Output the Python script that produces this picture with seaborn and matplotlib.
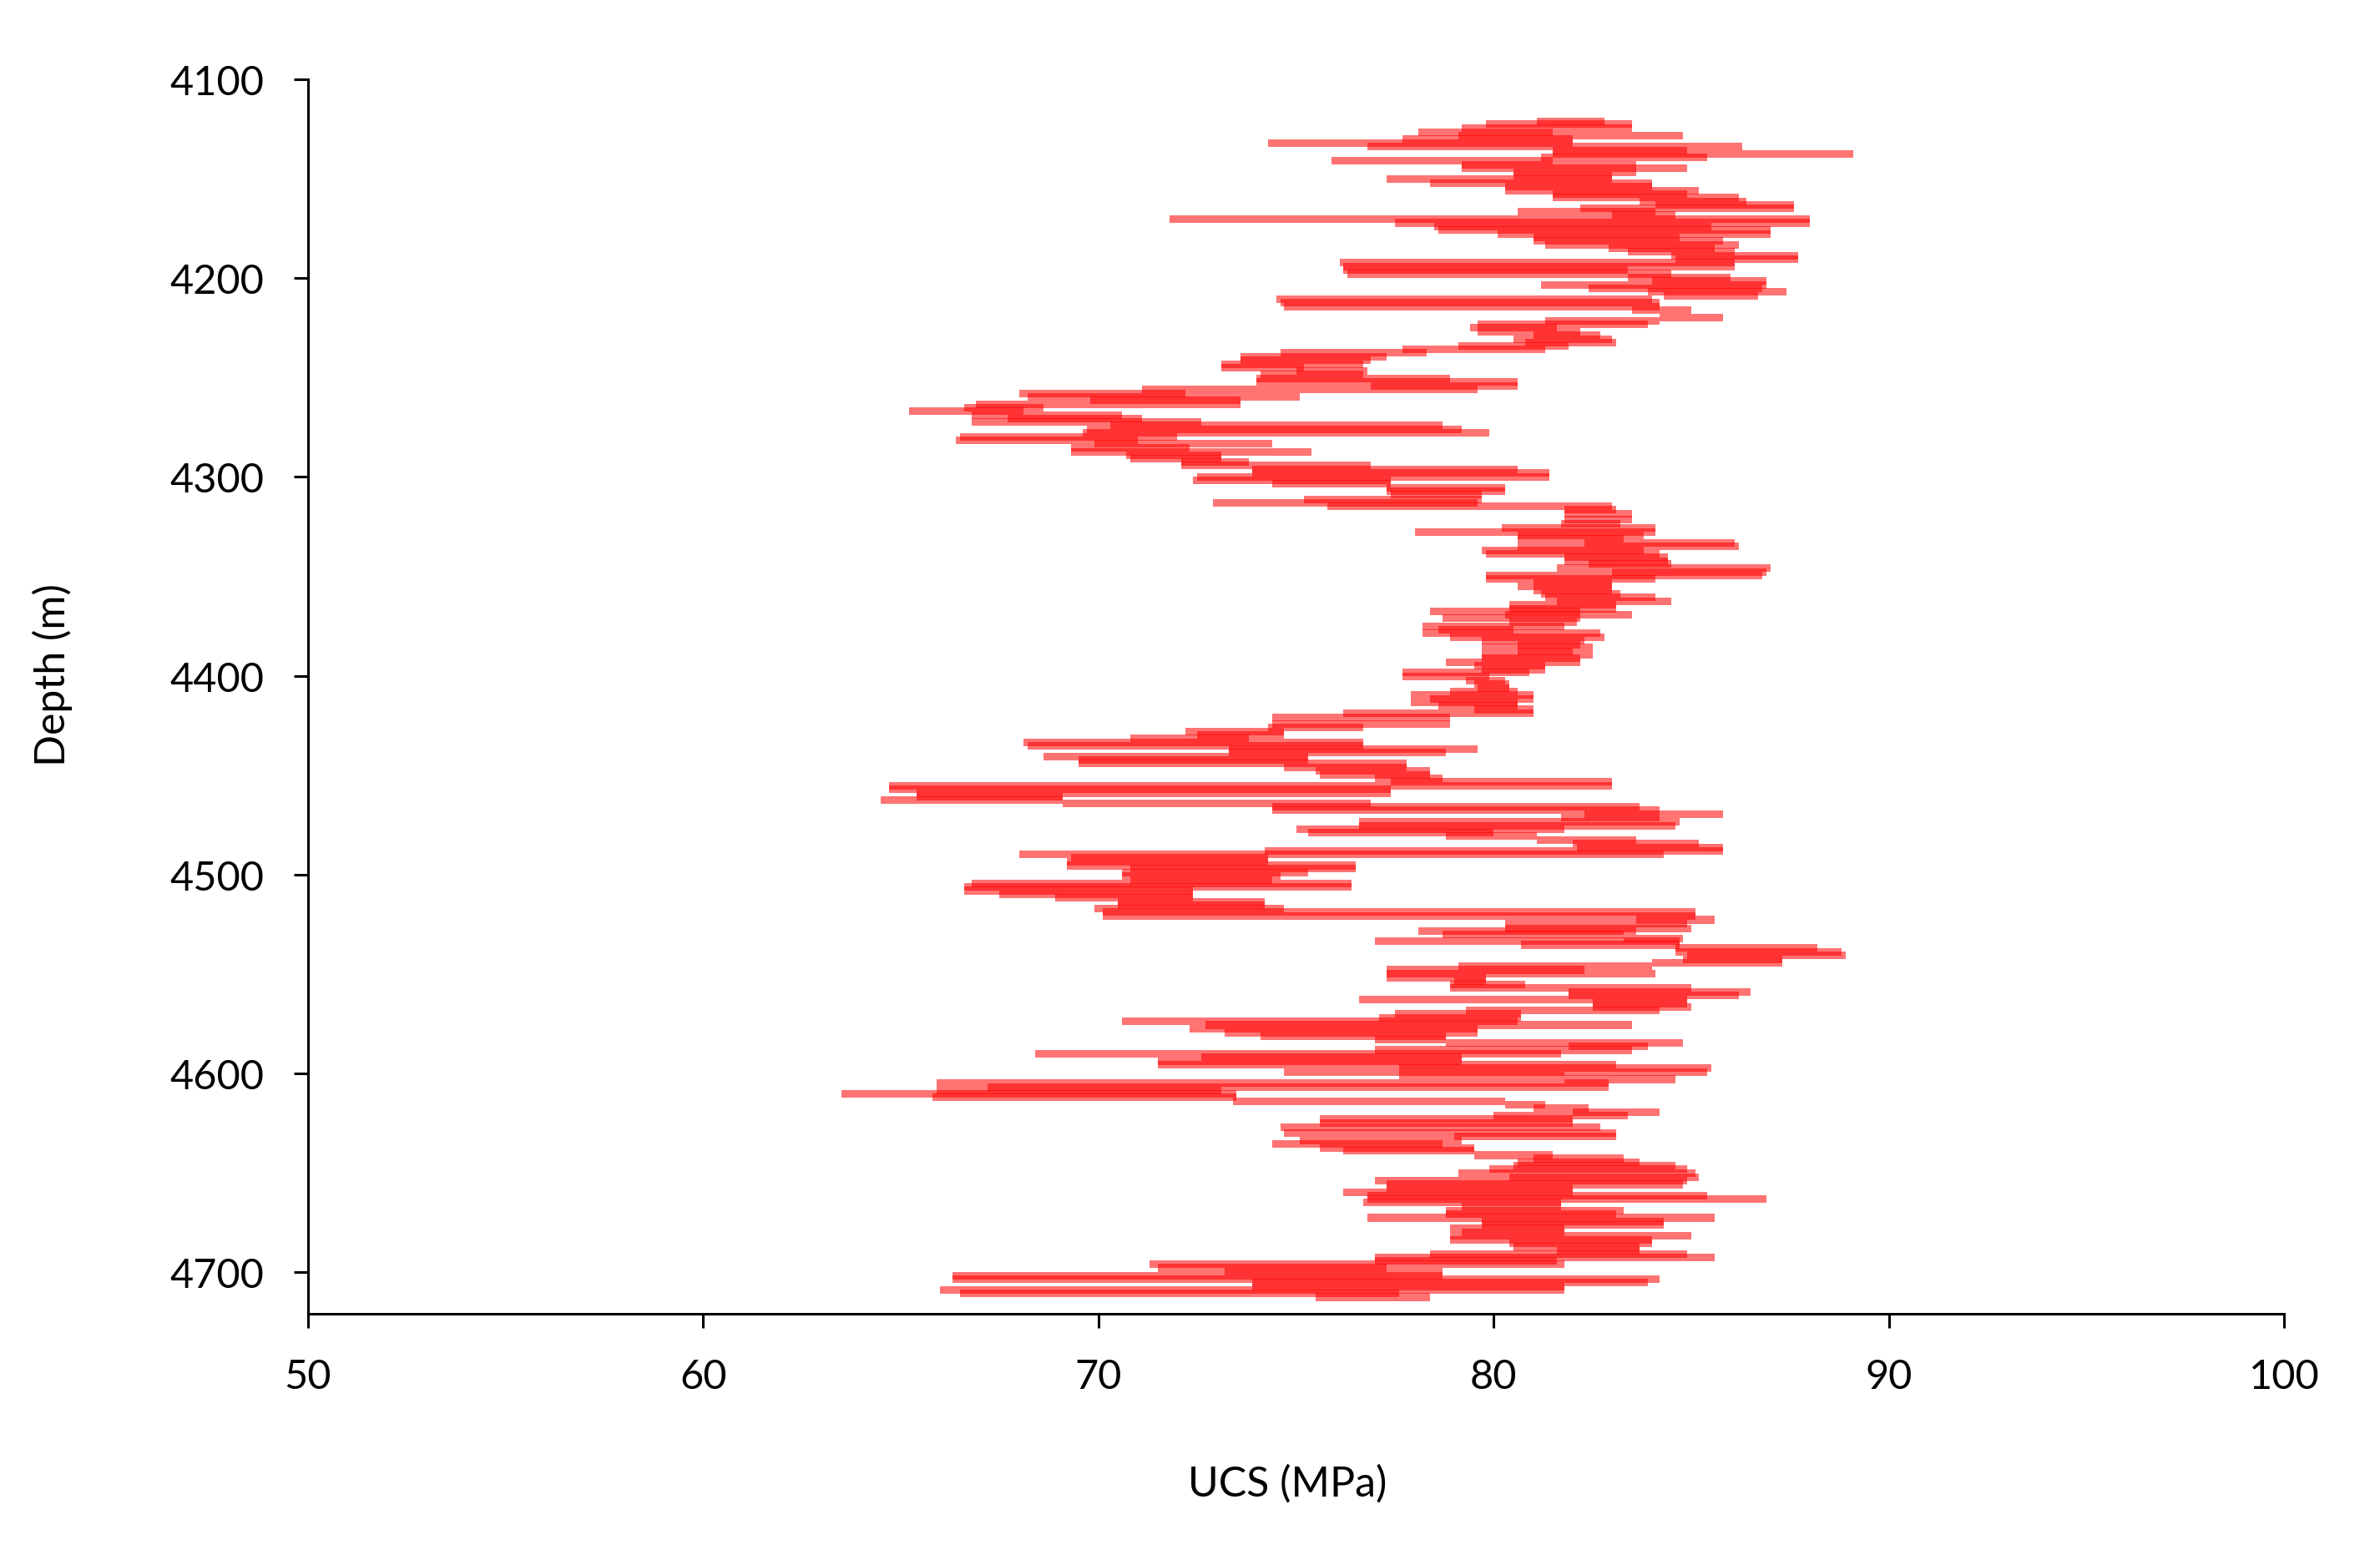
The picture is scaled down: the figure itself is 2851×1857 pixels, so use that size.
import numpy as np
import pandas as pd
import matplotlib
matplotlib.use("Agg")
import matplotlib.pyplot as plt
import seaborn as sns

depth_m = [
    4121.1, 4122.5, 4124.5, 4126.5, 4128.4, 4130.1, 4131.9, 4133.7, 4135.7, 4137.5,
    4139.3, 4141.0, 4143.1, 4144.8, 4146.6, 4148.4, 4150.2, 4152.2, 4154.0, 4155.9,
    4157.7, 4159.5, 4161.3, 4163.1, 4164.8, 4166.6, 4168.4, 4170.4, 4172.2, 4174.0,
    4175.9, 4177.7, 4179.5, 4181.3, 4183.2, 4185.0, 4186.8, 4188.6, 4190.4, 4192.2,
    4194.2, 4196.0, 4197.8, 4199.7, 4201.5, 4203.3, 4205.1, 4206.9, 4208.8, 4210.6,
    4212.4, 4214.2, 4216.0,
    4219.8, 4221.5, 4223.3, 4225.0, 4226.8, 4228.8, 4230.6, 4232.4, 4234.1, 4235.8,
    4237.6, 4239.4, 4241.1, 4243.2, 4245.0, 4246.7, 4248.5, 4250.6, 4252.3, 4254.1,
    4255.9, 4257.9, 4259.7, 4261.5, 4263.5, 4265.3, 4267.0, 4268.8, 4270.5, 4272.3,
    4274.1, 4276.1, 4277.9, 4279.7, 4281.7, 4283.3, 4285.2, 4287.3, 4289.0, 4290.8,
    4292.6, 4294.3, 4296.1, 4297.9, 4299.9, 4301.7, 4303.4, 4305.5, 4307.3, 4309.0,
    4311.3, 4313.0, 4314.7, 4316.4, 4318.4,
    4321.5, 4323.6, 4325.7, 4327.6, 4329.4, 4331.3, 4333.2, 4335.1, 4336.9, 4338.6,
    4340.4, 4342.3, 4343.9, 4345.8, 4347.9, 4349.5, 4351.4, 4353.5, 4355.1, 4357.0,
    4358.8, 4360.7, 4362.6, 4364.4, 4366.3, 4367.7, 4369.4, 4371.2, 4373.3, 4375.2,
    4377.0, 4378.7, 4380.6, 4382.4, 4384.3, 4385.9, 4387.8, 4389.6, 4391.3, 4393.2,
    4395.0, 4396.9, 4398.5, 4400.6, 4402.5, 4404.1, 4406.2, 4407.9, 4409.7, 4411.6,
    4413.4, 4415.2, 4417.0, 4418.8, 4421.0,
    4424.3, 4426.2, 4428.1, 4429.9, 4431.6, 4433.4, 4435.3, 4437.0, 4438.8, 4440.7,
    4442.3, 4444.2, 4446.0, 4447.9, 4449.8, 4451.6, 4453.5, 4455.4, 4457.2, 4459.1,
    4460.7, 4462.4, 4464.2, 4465.9, 4467.7, 4469.6, 4471.5, 4473.3, 4475.4, 4477.3,
    4478.9, 4480.8, 4482.6, 4484.5, 4486.4, 4488.0, 4489.9, 4491.7, 4493.5, 4495.5,
    4497.1, 4499.0, 4500.8, 4502.7, 4504.6, 4506.4, 4508.1, 4510.0, 4511.8, 4513.7,
    4515.3, 4517.2, 4519.0, 4521.0, 4522.8, 4524.6,
    4527.2, 4528.6, 4530.3, 4532.1, 4533.5, 4535.4, 4537.0, 4538.9, 4540.7, 4542.6,
    4544.5, 4546.3, 4548.0, 4550.0, 4551.8, 4553.6, 4555.2, 4557.1, 4559.2, 4560.8,
    4563.0, 4564.8, 4566.7, 4568.5, 4570.2, 4572.0, 4573.9, 4575.7, 4577.6, 4579.5,
    4581.3, 4583.0, 4584.6, 4586.5, 4588.3, 4590.0, 4591.9, 4593.9, 4595.8, 4597.5,
    4599.3, 4601.2, 4603.0, 4605.0, 4606.8, 4608.5, 4610.3, 4612.1, 4614.0, 4615.8,
    4617.5, 4619.4, 4621.3, 4623.1, 4625.2, 4627.0,
    4630.0, 4631.7, 4634.0, 4635.6, 4637.5, 4639.1, 4641.2, 4642.9, 4644.7, 4646.6,
    4648.2, 4650.1, 4652.2, 4654.1, 4655.9, 4657.8, 4659.7, 4661.5, 4663.4, 4665.0,
    4666.9, 4669.0, 4670.9, 4672.7, 4674.6, 4676.2, 4678.1, 4680.0, 4681.8, 4683.7,
    4685.5, 4687.4, 4689.1, 4690.9, 4692.8, 4694.4, 4696.1, 4697.9, 4699.8, 4701.7,
    4703.5, 4705.4, 4707.3, 4709.1, 4710.9, 4712.6,
]

ucs_low = [
    81.1, 79.8, 79.2, 78.1, 79.1, 77.7, 74.3, 76.8, 81.5, 81.5,
    81.2, 75.9, 79.2, 79.2, 80.5, 80.5, 77.3, 78.4, 80.3, 80.3,
    81.5, 81.5, 83.7, 84.1, 82.2, 80.6, 83.0, 71.8, 77.5, 78.5,
    78.6, 80.1, 81.0, 81.0, 81.3, 82.9, 83.4, 84.5, 84.6, 76.1,
    76.2, 76.2, 76.3, 83.4, 84.0, 81.2, 82.4, 83.9, 84.3, 74.5,
    74.6, 74.7, 83.5,
    84.2, 81.3, 79.6, 79.4, 79.6, 81.0, 80.5, 80.8, 79.1, 77.7,
    74.6, 73.6, 73.6, 73.1, 73.1, 75.0, 74.1, 74.0, 74.0, 76.9,
    71.1, 68.0, 68.2, 69.8, 66.9, 66.6, 65.2, 66.8, 67.7, 66.8,
    70.3, 69.7, 69.6, 66.5, 66.4, 69.9, 69.3, 69.3, 70.7, 70.8,
    72.1, 72.1, 73.9, 73.9, 72.5, 72.4, 74.4, 77.3, 77.3, 77.4,
    75.2, 72.9, 75.8, 81.8, 81.8,
    81.8, 81.7, 80.2, 78.0, 80.6, 80.6, 82.3, 80.6, 79.7, 79.8,
    81.8, 81.8, 82.4, 81.6, 83.0, 79.8, 79.8, 81.0, 80.6, 81.0,
    81.2, 81.3, 81.6, 80.4, 80.4, 78.4, 80.3, 78.7, 80.4, 78.2,
    78.6, 78.2, 78.9, 79.7, 80.6, 79.7, 80.6, 79.7, 79.7, 78.8,
    79.5, 79.7, 77.7, 77.7, 79.3, 79.5, 79.6, 78.9, 77.9, 78.4,
    77.9, 78.6, 79.5, 76.2, 74.4,
    74.4, 74.3, 72.2, 72.5, 70.8, 68.1, 68.2, 73.3, 73.3, 68.6,
    69.5, 69.5, 74.7, 75.5, 75.6, 77.0, 77.4, 64.7, 64.7, 65.4,
    65.4, 64.5, 69.1, 74.4, 74.4, 82.3, 81.7, 76.6, 76.6, 75.0,
    75.3, 78.8, 81.1, 82.0, 82.1, 74.2, 68.0, 69.3, 69.2, 69.2,
    70.8, 70.6, 70.6, 70.8, 66.8, 66.6, 66.6, 67.5, 68.9, 70.5,
    70.5, 69.9, 70.1, 70.1, 83.6, 80.3,
    80.3, 78.1, 78.7, 83.3, 77.0, 80.7, 84.6, 84.6, 84.9, 84.8,
    84.0, 79.1, 77.3, 77.3, 77.3, 79.0, 78.9, 78.9, 81.9, 81.9,
    76.6, 82.5, 82.5, 79.3, 77.5, 77.1, 70.6, 72.7, 72.3, 73.2,
    74.1, 77.0, 78.8, 81.9, 77.0, 68.4, 72.6, 71.5, 71.5, 77.6,
    74.7, 77.6, 81.8, 65.9, 67.2, 65.9, 63.5, 65.8, 73.4, 80.3,
    81.0, 82.0, 80.0, 75.6, 75.6, 74.6,
    74.7, 79.0, 75.1, 74.4, 75.6, 76.2, 79.5, 81.0, 80.6, 80.5,
    79.9, 79.1, 80.4, 77.0, 77.3, 77.3, 76.2, 76.8, 76.8, 76.7,
    79.2, 78.8, 78.8, 76.8, 79.7, 79.7, 78.9, 79.2, 78.9, 78.9,
    80.4, 80.5, 81.6, 78.4, 77.0, 77.0, 71.3, 71.5, 73.2, 66.3,
    66.3, 73.9, 73.9, 66.0, 66.5, 75.5,
]

ucs_high = [
    82.8, 83.5, 83.5, 81.5, 84.8, 82.0, 82.0, 86.3, 84.9, 89.1,
    85.4, 81.5, 83.6, 84.9, 83.6, 83.0, 83.0, 84.0, 84.0, 85.2,
    84.9, 86.2, 86.4, 87.6, 87.6, 84.1, 84.6, 88.0, 88.0, 85.5,
    87.0, 87.0, 84.7, 85.8, 86.2, 85.6, 86.1, 87.7, 87.7, 86.1,
    86.1, 83.4, 84.5, 86.0, 86.9, 86.9, 86.8, 87.4, 86.7, 84.0,
    84.2, 84.2, 85.0,
    85.8, 84.2, 83.9, 81.6, 82.2, 82.7, 83.0, 83.1, 81.9, 81.3,
    78.3, 77.3, 76.9, 76.7, 75.2, 76.8, 76.7, 78.9, 80.6, 80.6,
    79.6, 72.2, 75.1, 73.6, 73.6, 68.6, 68.1, 70.6, 71.1, 72.6,
    78.7, 79.2, 79.9, 72.0, 71.0, 74.4, 72.3, 75.4, 73.1, 73.1,
    73.8, 76.9, 80.6, 81.4, 81.4, 77.4, 77.4, 80.3, 80.3, 79.7,
    79.7, 79.6, 83.0, 83.1, 83.5,
    83.5, 83.2, 84.1, 84.1, 83.8, 83.3, 86.1, 86.2, 83.8, 84.2,
    84.4, 84.4, 84.5, 87.0, 86.9, 86.8, 84.1, 83.0, 83.0, 83.0,
    83.2, 84.1, 84.5, 83.1, 83.1, 82.2, 83.5, 82.2, 82.1, 81.8,
    80.5, 82.7, 82.8, 82.3, 82.2, 82.5, 82.0, 82.5, 82.2, 82.2,
    81.3, 81.3, 80.9, 79.9, 80.3, 80.4, 80.4, 80.6, 81.0, 81.0,
    80.6, 80.6, 81.0, 81.0, 78.9,
    78.9, 76.7, 74.7, 74.7, 73.8, 76.7, 76.7, 79.6, 78.8, 75.3,
    75.3, 77.8, 77.8, 78.4, 78.4, 78.7, 83.0, 83.0, 77.4, 77.4,
    69.1, 69.1, 76.9, 83.7, 84.2, 85.8, 84.2, 84.7, 84.6, 81.8,
    80.0, 81.1, 83.6, 85.2, 85.8, 85.8, 84.3, 74.3, 74.3, 76.5,
    76.5, 75.3, 74.6, 74.4, 76.4, 76.4, 72.4, 72.4, 72.4, 74.2,
    74.2, 74.7, 85.1, 85.1, 85.6, 84.9,
    85.0, 83.6, 83.3, 84.8, 84.7, 84.7, 88.2, 88.8, 88.9, 87.3,
    87.3, 84.0, 82.3, 84.1, 79.8, 79.8, 80.8, 85.0, 86.5, 86.2,
    84.9, 84.9, 85.0, 84.2, 80.7, 80.7, 80.6, 83.5, 79.6, 79.6,
    78.8, 78.8, 84.8, 83.9, 83.5, 81.7, 79.2, 79.2, 83.1, 85.5,
    85.4, 81.8, 84.6, 82.9, 82.9, 73.1, 73.5, 73.5, 80.3, 81.3,
    82.4, 84.2, 83.4, 82.0, 82.0, 82.7,
    83.1, 83.1, 79.2, 78.7, 79.5, 79.5, 81.5, 83.3, 83.7, 84.6,
    84.9, 85.1, 85.2, 84.9, 84.8, 82.0, 82.0, 85.4, 86.9, 81.7,
    81.7, 83.3, 83.1, 85.6, 84.3, 84.3, 81.8, 81.8, 85.0, 84.0,
    84.0, 83.7, 83.7, 84.9, 85.6, 81.6, 81.8, 77.3, 78.7, 78.7,
    84.2, 83.9, 81.8, 81.8, 77.6, 78.4,
]

x_ticks = [50, 60, 70, 80, 90, 100]
y_ticks = [4100, 4200, 4300, 4400, 4500, 4600, 4700]

sns.set_theme(style="ticks")
plt.rcParams['font.family'] = ['Lato', 'DejaVu Sans']

df = pd.DataFrame({"depth": depth_m, "low": ucs_low, "high": ucs_high})

fig = plt.figure(figsize=(28.51, 18.58), dpi=100)
ax = fig.add_axes([0.1294, 0.1523, 0.8303, 0.796])

# thick semi-transparent bars: overlapping intervals build up to solid red
ax.barh(df["depth"], df["high"] - df["low"], left=df["low"], height=3.8,
        color="#ff0000", alpha=0.55, linewidth=0)

ax.set_xlim(50, 100)
ax.set_ylim(4721, 4100)
ax.set_xticks(x_ticks)
ax.set_yticks(y_ticks)

sns.despine(ax=ax)
for side in ["left", "bottom"]:
    ax.spines[side].set_linewidth(2.2)
    ax.spines[side].set_color("black")

ax.tick_params(direction="out", length=12, width=2.2, colors="black", labelsize=35)
ax.tick_params(axis="y", pad=26)
ax.tick_params(axis="x", pad=26)

ax.set_xlabel("UCS (MPa)", fontsize=36, color="black")
ax.set_ylabel("Depth (m)", fontsize=36, color="black")
ax.xaxis.set_label_coords(0.4956, -0.122)
ax.yaxis.set_label_coords(-0.119, 0.518)

fig.savefig("out.png", dpi=100)
plt.close()
